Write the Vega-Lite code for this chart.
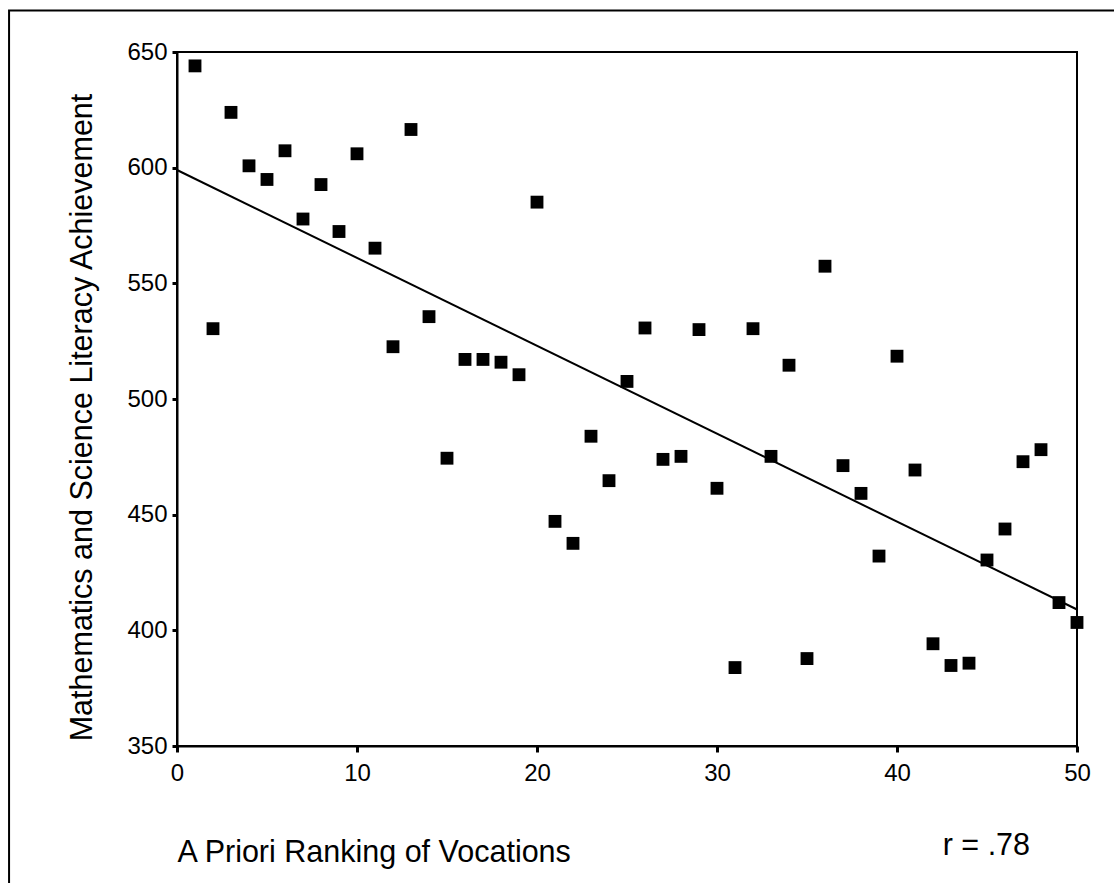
{
  "$schema": "https://vega.github.io/schema/vega-lite/v6.json",
  "width": 900,
  "height": 694,
  "autosize": {"type": "none"},
  "padding": {"left": 177, "top": 52, "right": 37, "bottom": 137},
  "background": "white",
  "config": {
    "font": "Liberation Sans",
    "view": {"stroke": "black", "strokeWidth": 2},
    "axis": {
      "grid": false,
      "domainColor": "black",
      "domainWidth": 2,
      "tickColor": "black",
      "tickWidth": 3,
      "labelColor": "black",
      "labelFont": "Liberation Sans",
      "labelFontSize": 24,
      "labelFlush": false,
      "labelOverlap": false,
      "titleFont": "Liberation Sans",
      "titleFontSize": 30.5,
      "titleFontWeight": "normal",
      "titleColor": "black"
    },
    "axisX": {
      "tickSize": 6,
      "labelPadding": 9,
      "titleX": 0,
      "titleY": 115,
      "titleAlign": "left",
      "titleAnchor": "start",
      "titleBaseline": "alphabetic"
    },
    "axisY": {
      "tickSize": 5,
      "labelPadding": 5,
      "titleX": -86,
      "titleY": 365,
      "titleAngle": -90,
      "titleAlign": "center",
      "titleBaseline": "alphabetic"
    }
  },
  "datasets": {
    "points": [
      {"rank": 1, "score": 644},
      {"rank": 2, "score": 530.4},
      {"rank": 3, "score": 623.9},
      {"rank": 4, "score": 600.8},
      {"rank": 5, "score": 594.9},
      {"rank": 6, "score": 607.3},
      {"rank": 7, "score": 577.8},
      {"rank": 8, "score": 592.7},
      {"rank": 9, "score": 572.4},
      {"rank": 10, "score": 606},
      {"rank": 11, "score": 565.2},
      {"rank": 12, "score": 522.6},
      {"rank": 13, "score": 616.5},
      {"rank": 14, "score": 535.6},
      {"rank": 15, "score": 474.4},
      {"rank": 16, "score": 517.1},
      {"rank": 17, "score": 517.1},
      {"rank": 18, "score": 515.9},
      {"rank": 19, "score": 510.5},
      {"rank": 20, "score": 585.1},
      {"rank": 21, "score": 447.1},
      {"rank": 22, "score": 437.6},
      {"rank": 23, "score": 483.9},
      {"rank": 24, "score": 464.7},
      {"rank": 25, "score": 507.6},
      {"rank": 26, "score": 530.7},
      {"rank": 27, "score": 473.9},
      {"rank": 28, "score": 475.2},
      {"rank": 29, "score": 530},
      {"rank": 30, "score": 461.4},
      {"rank": 31, "score": 383.9},
      {"rank": 32, "score": 530.4},
      {"rank": 33, "score": 475.2},
      {"rank": 34, "score": 514.6},
      {"rank": 35, "score": 387.8},
      {"rank": 36, "score": 557.4},
      {"rank": 37, "score": 471.2},
      {"rank": 38, "score": 459.2},
      {"rank": 39, "score": 432.1},
      {"rank": 40, "score": 518.5},
      {"rank": 41, "score": 469.3},
      {"rank": 42, "score": 394.2},
      {"rank": 43, "score": 384.8},
      {"rank": 44, "score": 385.8},
      {"rank": 45, "score": 430.4},
      {"rank": 46, "score": 443.8},
      {"rank": 47, "score": 472.9},
      {"rank": 48, "score": 478.1},
      {"rank": 49, "score": 412},
      {"rank": 50, "score": 403.4}
    ],
    "fit": [
      {"rank": 0, "score": 599},
      {"rank": 50, "score": 409}
    ]
  },
  "layer": [
    {
      "data": {"values": [{}]},
      "mark": {"type": "rect", "fillOpacity": 0, "stroke": "black", "strokeWidth": 2, "clip": false},
      "encoding": {
        "x": {"datum": -9.33, "type": "quantitative", "scale": {"domain": [0, 50], "nice": false, "zero": false}, "axis": {"values": [0, 10, 20, 30, 40, 50], "title": "A Priori Ranking of Vocations"}},
        "x2": {"datum": 53},
        "y": {"datum": 667.9, "type": "quantitative", "scale": {"domain": [350, 650], "nice": false, "zero": false}, "axis": {"values": [350, 400, 450, 500, 550, 600, 650], "title": "Mathematics and Science Literacy Achievement"}},
        "y2": {"datum": 283}
      }
    },
    {
      "data": {"name": "fit"},
      "mark": {"type": "line", "color": "black", "strokeWidth": 2},
      "encoding": {
        "x": {"field": "rank", "type": "quantitative", "scale": {"domain": [0, 50], "nice": false, "zero": false}, "axis": {"values": [0, 10, 20, 30, 40, 50], "title": "A Priori Ranking of Vocations"}},
        "y": {"field": "score", "type": "quantitative", "scale": {"domain": [350, 650], "nice": false, "zero": false}, "axis": {"values": [350, 400, 450, 500, 550, 600, 650], "title": "Mathematics and Science Literacy Achievement"}}
      }
    },
    {
      "data": {"name": "points"},
      "mark": {"type": "point", "shape": "square", "filled": true, "color": "black", "opacity": 1, "size": 165},
      "encoding": {
        "x": {"field": "rank", "type": "quantitative", "scale": {"domain": [0, 50], "nice": false, "zero": false}, "axis": {"values": [0, 10, 20, 30, 40, 50], "title": "A Priori Ranking of Vocations"}},
        "y": {"field": "score", "type": "quantitative", "scale": {"domain": [350, 650], "nice": false, "zero": false}, "axis": {"values": [350, 400, 450, 500, 550, 600, 650], "title": "Mathematics and Science Literacy Achievement"}}
      }
    },
    {
      "data": {"values": [{}]},
      "mark": {"type": "text", "text": "r = .78", "font": "Liberation Sans", "fontSize": 30.5, "color": "black", "align": "left", "baseline": "alphabetic", "clip": false},
      "encoding": {
        "x": {"datum": 42.54, "type": "quantitative", "scale": {"domain": [0, 50], "nice": false, "zero": false}, "axis": {"values": [0, 10, 20, 30, 40, 50], "title": "A Priori Ranking of Vocations"}},
        "y": {"datum": 302.9, "type": "quantitative", "scale": {"domain": [350, 650], "nice": false, "zero": false}, "axis": {"values": [350, 400, 450, 500, 550, 600, 650], "title": "Mathematics and Science Literacy Achievement"}}
      }
    }
  ]
}
